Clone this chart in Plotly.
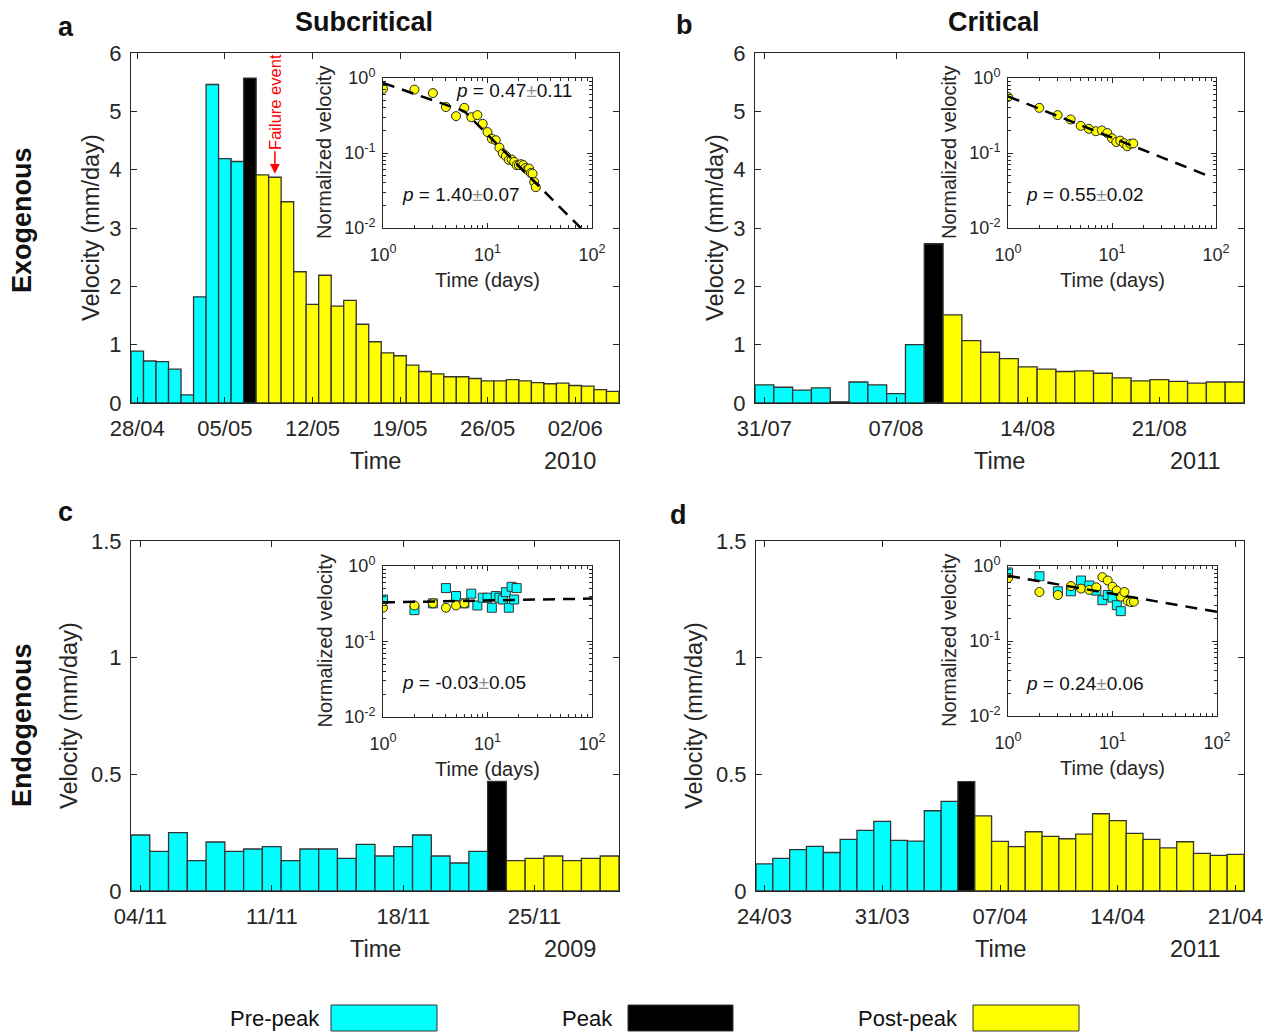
import pandas as pd
import plotly.graph_objects as go

W, H = 1277, 1034
OFF = 8  # the page body adds an 8px margin around the figure
FONT = "Liberation Sans, Arial, Helvetica, sans-serif"
INK = "#262626"
CYAN, BLACK, YELLOW = "#00FFFF", "#000000", "#FFFF00"

# ---------------- data ----------------
# Panel a  (Exogenous, Subcritical, 2010)
start_a = "2010-04-28"
pre_a = [0.89, 0.72, 0.71, 0.58, 0.14, 1.82, 5.46, 4.19, 4.14]
peak_a = [5.57]
post_a = [3.91, 3.87, 3.45, 2.25, 1.69, 2.19, 1.66, 1.76, 1.35, 1.05, 0.86, 0.81,
          0.65, 0.54, 0.50, 0.45, 0.45, 0.42, 0.38, 0.38, 0.40, 0.38, 0.35, 0.33,
          0.34, 0.30, 0.29, 0.23, 0.20]
tickdates_a = ["2010-04-28", "2010-05-05", "2010-05-12", "2010-05-19", "2010-05-26", "2010-06-02"]
ticklabels_a = ["28/04", "05/05", "12/05", "19/05", "26/05", "02/06"]
norm_post_a = [0.72, 0.70, 0.63, 0.41, 0.31, 0.40, 0.30, 0.32, 0.245, 0.19, 0.155, 0.148,
               0.118, 0.099, 0.091, 0.081, 0.082, 0.076, 0.069, 0.069, 0.071, 0.069,
               0.063, 0.060, 0.062, 0.054, 0.053, 0.041, 0.035]
norm_pre_a = []
fit_a_x = [1, 6, 78]
fit_a_y = [0.86, 0.36, 0.01]

# Panel b  (Exogenous, Critical, 2011)
start_b = "2011-07-31"
pre_b = [0.31, 0.27, 0.22, 0.26, 0.02, 0.36, 0.31, 0.16, 1.00]
peak_b = [2.73]
post_b = [1.51, 1.07, 0.87, 0.76, 0.62, 0.58, 0.54, 0.55, 0.51, 0.43, 0.38, 0.40,
          0.37, 0.34, 0.36, 0.36]
tickdates_b = ["2011-07-31", "2011-08-07", "2011-08-14", "2011-08-21"]
ticklabels_b = ["31/07", "07/08", "14/08", "21/08"]
norm_post_b = [0.56, 0.40, 0.32, 0.28, 0.23, 0.21, 0.195, 0.20, 0.185, 0.157, 0.14,
               0.146, 0.135, 0.123, 0.133, 0.134]
norm_pre_b = []
fit_b_x = [1, 80]
fit_b_y = [0.57, 0.051]

# Panel c  (Endogenous, Subcritical, 2009)
start_c = "2009-11-04"
pre_c = [0.24, 0.17, 0.25, 0.13, 0.21, 0.17, 0.18, 0.19, 0.13, 0.18, 0.18, 0.14,
         0.20, 0.15, 0.19, 0.24, 0.15, 0.12, 0.17]
peak_c = [0.47]
post_c = [0.13, 0.14, 0.15, 0.13, 0.14, 0.15]
tickdates_c = ["2009-11-04", "2009-11-11", "2009-11-18", "2009-11-25"]
ticklabels_c = ["04/11", "11/11", "18/11", "25/11"]
norm_post_c = [0.28, 0.30, 0.32, 0.28, 0.30, 0.32]
norm_pre_c = [0.36, 0.26, 0.32, 0.51, 0.40, 0.32, 0.43, 0.30, 0.38, 0.38, 0.28, 0.40,
              0.38, 0.36, 0.45, 0.28, 0.53, 0.36, 0.51]
fit_c_x = [1, 100]
fit_c_y = [0.33, 0.37]

# Panel d  (Endogenous, Critical, 2011)
start_d = "2011-03-24"
pre_d = [0.116, 0.14, 0.177, 0.191, 0.165, 0.221, 0.26, 0.298, 0.217, 0.214, 0.344, 0.384]
peak_d = [0.469]
post_d = [0.322, 0.213, 0.19, 0.254, 0.234, 0.224, 0.244, 0.331, 0.302, 0.247, 0.221,
          0.185, 0.211, 0.161, 0.153, 0.157]
tickdates_d = ["2011-03-24", "2011-03-31", "2011-04-07", "2011-04-14", "2011-04-21"]
ticklabels_d = ["24/03", "31/03", "07/04", "14/04", "21/04"]
norm_post_d = [0.69, 0.45, 0.41, 0.54, 0.50, 0.48, 0.52, 0.71, 0.64, 0.53, 0.47, 0.39,
               0.45, 0.34, 0.33, 0.335]
norm_pre_d = [0.82, 0.73, 0.46, 0.46, 0.64, 0.55, 0.47, 0.35, 0.41, 0.38, 0.30, 0.25]
fit_d_x = [1, 100]
fit_d_y = [0.74, 0.245]

ytick_top = [0, 1, 2, 3, 4, 5, 6]
ytick_bot = [0, 0.5, 1, 1.5]
ytext_bot = ["0", "0.5", "1", "1.5"]
log_ticks_x = [1, 10, 100]
log_text_x = ["10<sup>0</sup>", "10<sup>1</sup>", "10<sup>2</sup>"]
log_ticks_y = [0.01, 0.1, 1]
log_text_y = ["10<sup>-2</sup>", "10<sup>-1</sup>", "10<sup>0</sup>"]
minor_x = [2, 3, 4, 5, 6, 7, 8, 9, 20, 30, 40, 50, 60, 70, 80, 90]
minor_y = [0.02, 0.03, 0.04, 0.05, 0.06, 0.07, 0.08, 0.09, 0.2, 0.3, 0.4, 0.5, 0.6, 0.7, 0.8, 0.9]

p_texts = {
    "a": [("0.47", "0.11", 514, 90), ("1.40", "0.07", 461, 194)],
    "b": [("0.55", "0.02", 1085, 194)],
    "c": [("-0.03", "0.05", 464, 682)],
    "d": [("0.24", "0.06", 1085, 683)],
}

panels = [
    dict(key="a", start=start_a, pre=pre_a, peak=peak_a, post=post_a, td=tickdates_a, tl=ticklabels_a,
         yr=[0, 6], yt=ytick_top, ytx=[str(v) for v in ytick_top], year="2010",
         box=(131, 619, 53, 403), inset=(383, 592, 78, 228), npost=norm_post_a, npre=norm_pre_a,
         fx=fit_a_x, fy=fit_a_y, ylab_x=91),
    dict(key="b", start=start_b, pre=pre_b, peak=peak_b, post=post_b, td=tickdates_b, tl=ticklabels_b,
         yr=[0, 6], yt=ytick_top, ytx=[str(v) for v in ytick_top], year="2011",
         box=(755, 1244, 53, 403), inset=(1008, 1216, 78, 228), npost=norm_post_b, npre=norm_pre_b,
         fx=fit_b_x, fy=fit_b_y, ylab_x=715),
    dict(key="c", start=start_c, pre=pre_c, peak=peak_c, post=post_c, td=tickdates_c, tl=ticklabels_c,
         yr=[0, 1.5], yt=ytick_bot, ytx=ytext_bot, year="2009",
         box=(131, 619, 541, 891), inset=(383, 592, 566, 717), npost=norm_post_c, npre=norm_pre_c,
         fx=fit_c_x, fy=fit_c_y, ylab_x=69),
    dict(key="d", start=start_d, pre=pre_d, peak=peak_d, post=post_d, td=tickdates_d, tl=ticklabels_d,
         yr=[0, 1.5], yt=ytick_bot, ytx=ytext_bot, year="2011",
         box=(756, 1244, 541, 891), inset=(1008, 1217, 566, 716), npost=norm_post_d, npre=norm_pre_d,
         fx=fit_d_x, fy=fit_d_y, ylab_x=694),
]


def fx(px):
    return (px - OFF) / W


def fy(py):
    return 1 - (py - OFF) / H


DAY_MS = 86400000
fig = go.Figure()
layout = dict(
    width=W, height=H, autosize=False,
    margin=dict(l=0, r=0, t=0, b=0, pad=0, autoexpand=False),
    paper_bgcolor="white", plot_bgcolor="white", showlegend=False,
    barmode="overlay", font=dict(family=FONT, color=INK),
)
annotations = []
shapes = []


def ann(text, x, y, size, angle=0, color=INK, bold=False, xanchor="center"):
    t = f"<b>{text}</b>" if bold else text
    annotations.append(dict(text=t, x=fx(x), y=fy(y), xref="paper", yref="paper",
                            xanchor=xanchor, yanchor="middle", showarrow=False,
                            textangle=angle, font=dict(family=FONT, size=size, color=color)))


for i, p in enumerate(panels):
    m = i + 1          # main axes index
    s = i + 5          # inset axes index
    n = len(p["pre"]) + len(p["peak"]) + len(p["post"])
    dates = pd.date_range(p["start"], periods=n, freq="D")
    n1 = len(p["pre"])
    n2 = n1 + len(p["peak"])
    groups = [(dates[:n1], p["pre"], CYAN), (dates[n1:n2], p["peak"], BLACK), (dates[n2:], p["post"], YELLOW)]
    for xs, ys, col in groups:
        fig.add_trace(go.Bar(x=list(xs), y=ys, width=DAY_MS,
                             marker=dict(color=col, line=dict(color="#333333", width=1.3)),
                             xaxis=f"x{m}", yaxis=f"y{m}"))
    l, r, t, b = p["box"]
    x0 = dates[0] - pd.Timedelta(hours=12)
    x1 = dates[-1] + pd.Timedelta(hours=12)
    common = dict(ticks="inside", ticklen=6, tickcolor=INK, mirror="ticks", showline=True,
                  linecolor=INK, linewidth=1, showgrid=False, zeroline=False, automargin=False,
                  tickfont=dict(family=FONT, size=22, color=INK))
    layout[f"xaxis{m}"] = dict(
        type="date", domain=[fx(l), fx(r)], anchor=f"y{m}", range=[x0, x1],
        tickmode="array", tickvals=p["td"], ticktext=p["tl"], ticklabelstandoff=6, **common)
    layout[f"yaxis{m}"] = dict(
        domain=[fy(b), fy(t)], anchor=f"x{m}", range=p["yr"],
        tickmode="array", tickvals=p["yt"], ticktext=p["ytx"], ticklabelstandoff=4, **common)

    # inset
    if p["npre"]:
        fig.add_trace(go.Scatter(x=list(range(1, len(p["npre"]) + 1)), y=p["npre"], mode="markers",
                                 marker=dict(symbol="square", size=9, color=CYAN,
                                             line=dict(color="#333333", width=1)),
                                 xaxis=f"x{s}", yaxis=f"y{s}"))
    fig.add_trace(go.Scatter(x=list(range(1, len(p["npost"]) + 1)), y=p["npost"], mode="markers",
                             marker=dict(symbol="circle", size=9, color=YELLOW,
                                         line=dict(color="#222222", width=1)),
                             xaxis=f"x{s}", yaxis=f"y{s}"))
    fig.add_trace(go.Scatter(x=p["fx"], y=p["fy"], mode="lines",
                             line=dict(color="black", width=2.5, dash="12px,8px"),
                             xaxis=f"x{s}", yaxis=f"y{s}"))
    il, ir, it, ib = p["inset"]
    icommon = dict(ticks="inside", ticklen=5, tickcolor=INK, mirror="ticks", showline=True,
                   linecolor=INK, linewidth=1, showgrid=False, zeroline=False, automargin=False,
                   tickfont=dict(family=FONT, size=18, color=INK))
    layout[f"xaxis{s}"] = dict(
        type="log", domain=[fx(il), fx(ir)], anchor=f"y{s}", range=[0, 2],
        tickmode="array", tickvals=log_ticks_x, ticktext=log_text_x, ticklabelstandoff=10,
        minor=dict(tickmode="array", tickvals=minor_x, ticks="inside", ticklen=3, tickcolor=INK, showgrid=False),
        **icommon)
    layout[f"yaxis{s}"] = dict(
        type="log", domain=[fy(ib), fy(it)], anchor=f"x{s}", range=[-2, 0],
        tickmode="array", tickvals=log_ticks_y, ticktext=log_text_y, ticklabelstandoff=3,
        minor=dict(tickmode="array", tickvals=minor_y, ticks="inside", ticklen=3, tickcolor=INK, showgrid=False),
        **icommon)

    # axis titles
    ann("Velocity (mm/day)", p["ylab_x"], (t + b) / 2, 23.5, angle=-90)
    ann("Time", (l + r) / 2, b + 58, 23.5)
    ann(p["year"], r - 49, b + 58, 23.5)
    ann("Normalized velocity", il - 59, (it + ib) / 2, 20, angle=-90)
    ann("Time (days)", (il + ir) / 2, ib + 52, 20)
    for val, err, px, py in p_texts[p["key"]]:
        ann(f"<i>p</i> = {val}<span style='color:#8c8c8c'>±</span>{err}", px, py, 19, color="#111111")

# Titles, row labels, panel letters
ann("Subcritical", 364, 22, 27, bold=True, color="#111111")
ann("Critical", 994, 22, 27, bold=True, color="#111111")
ann("Exogenous", 22, 220, 27, angle=-90, bold=True, color="#111111")
ann("Endogenous", 22, 725, 27, angle=-90, bold=True, color="#111111")
ann("a", 66, 27, 27, bold=True, color="#111111")
ann("b", 685, 25, 27, bold=True, color="#111111")
ann("c", 66, 512, 27, bold=True, color="#111111")
ann("d", 679, 515, 27, bold=True, color="#111111")

# Failure event marker (panel a, bar of 09/05)
fail_date = "2010-05-09"
fail_val = 3.87
annotations.append(dict(x=fail_date, y=fail_val + 0.06, xref="x1", yref="y1", text="",
                        showarrow=True, arrowhead=2, arrowsize=1.3, arrowwidth=1.5,
                        arrowcolor="#FF0000", ax=0, ay=-24))
annotations.append(dict(text="Failure event", x=fail_date, y=fy(102), xref="x1", yref="paper",
                        xanchor="center", yanchor="middle", showarrow=False, textangle=-90,
                        font=dict(family=FONT, size=16.5, color="#FF0000")))

# Bottom legend
legend_items = [("Pre-peak", CYAN, 322, 331, 437), ("Peak", BLACK, 615, 628, 733),
                ("Post-peak", YELLOW, 960, 973, 1079)]
for label, col, tx, bx0, bx1 in legend_items:
    ann(label, tx, 1018, 22, xanchor="right", color="#111111")
    shapes.append(dict(type="rect", xref="paper", yref="paper", x0=fx(bx0), x1=fx(bx1),
                       y0=fy(1031), y1=fy(1005), fillcolor=col, line=dict(color="#333333", width=1)))

layout["annotations"] = annotations
layout["shapes"] = shapes
fig.update_layout(**layout)
fig.write_html("out.html")
